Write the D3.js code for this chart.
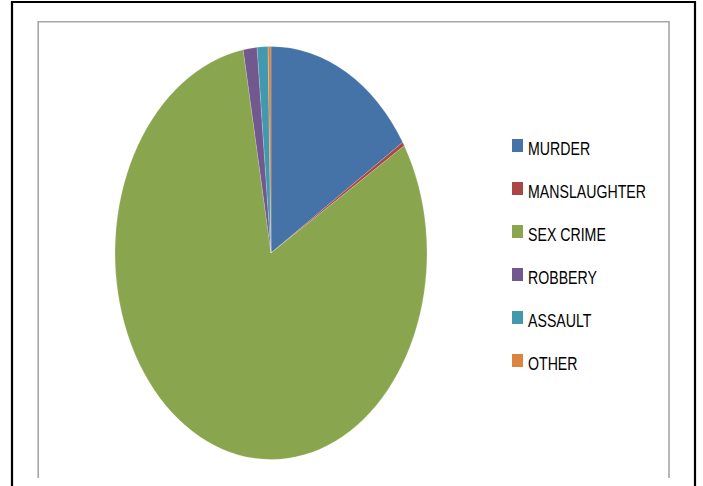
<!DOCTYPE html>
<html>
<head>
<meta charset="utf-8">
<script src="https://cdn.jsdelivr.net/npm/d3@7/dist/d3.min.js"></script>
<style>
html,body{margin:0;padding:0;background:#fff;overflow:hidden;}
svg{display:block;}
</style>
</head>
<body>
<script>
const categories = ["MURDER", "MANSLAUGHTER", "SEX CRIME", "ROBBERY", "ASSAULT", "OTHER"];
const values = [16.0, 0.3, 80.85, 1.43, 1.12, 0.3];
const colors = ["#4572A7", "#AA4643", "#89A54E", "#71588F", "#4198AF", "#DB843D"];

const W = 703, H = 486;
const svg = d3.select("body").append("svg").attr("width", W).attr("height", H);

// outer black frame (cropped at bottom)
svg.append("path")
  .attr("d", "M12,500 L12,2 L695,2 L695,500")
  .attr("fill", "none").attr("stroke", "#000").attr("stroke-width", 2.2);
// inner gray plot frame
svg.append("path")
  .attr("d", "M38.2,478 L38.2,21.7 L669,21.7 L669,478")
  .attr("fill", "none").attr("stroke", "#a6a6a6").attr("stroke-width", 1.6);

const cx = 271, cy = 253, ry = 206.5, rx = 156;
const pie = d3.pie().sort(null).value(d => d.v).startAngle(0).endAngle(2 * Math.PI);
const data = categories.map((c, i) => ({ c, v: values[i], col: colors[i] }));
const arc = d3.arc().innerRadius(0).outerRadius(ry);

const g = svg.append("g").attr("transform", `translate(${cx},${cy}) scale(${rx / ry},1)`);
g.selectAll("path").data(pie(data)).enter().append("path")
  .attr("d", arc)
  .attr("fill", d => d.data.col)
  .attr("stroke", "#ffffff")
  .attr("stroke-opacity", 0.35)
  .attr("stroke-width", 0.6);

// legend
const y = d3.scaleLinear().domain([0, 1]).range([139, 182]);
const lg = svg.append("g");
const items = lg.selectAll("g").data(data).enter().append("g");
items.append("rect")
  .attr("x", 512).attr("y", (d, i) => y(i))
  .attr("width", 11).attr("height", 13)
  .attr("fill", d => d.col);
items.append("text")
  .attr("transform", (d, i) => `translate(528,${y(i) + 16}) scale(0.745,1)`)
  .attr("font-family", "Liberation Sans, Arial, sans-serif")
  .attr("font-size", 19)
  .attr("fill", "#000")
  .text(d => d.c);
</script>
</body>
</html>
